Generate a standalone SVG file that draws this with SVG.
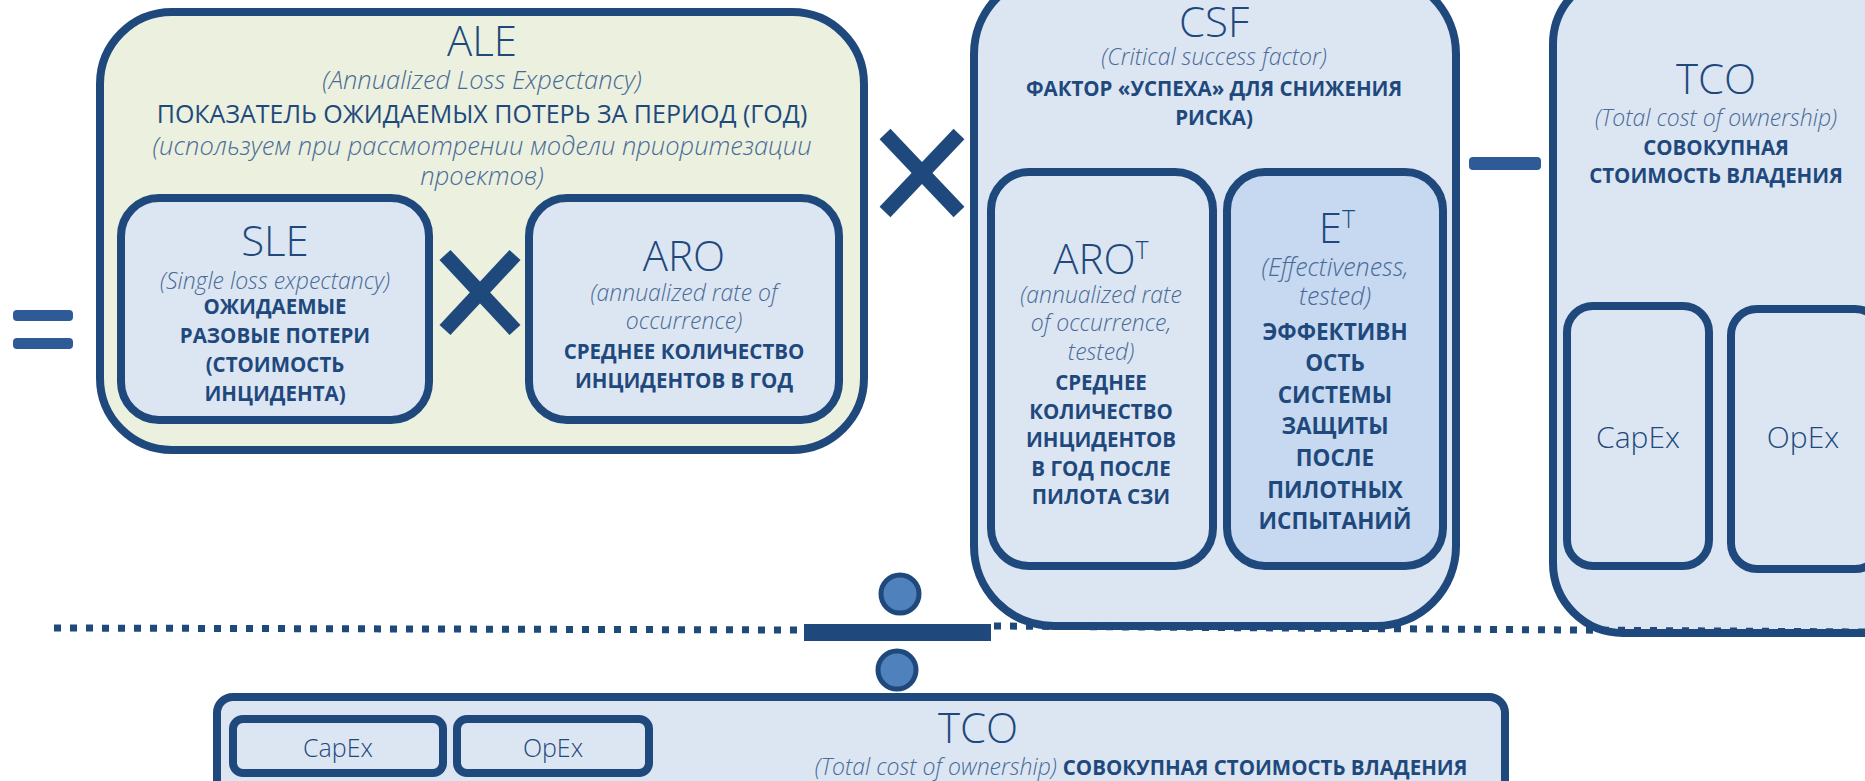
<svg xmlns="http://www.w3.org/2000/svg" width="1865" height="781" viewBox="0 0 1865 781">
<style>
.box{fill:#dce6f2;stroke:#1f497d;stroke-width:8}
.ale{fill:#ebf1de;stroke:#1f497d;stroke-width:8}
.et{fill:#c6d9f0;stroke:#1f497d;stroke-width:8}
.t{font-family:"Open Sans","Noto Sans",sans-serif;fill:#1f497d;text-anchor:middle}
.ttl{font-weight:300;font-size:42px}
.it{font-style:italic;font-weight:300;font-size:23px;fill:#4a6a98}
.ita{font-size:25.5px}
.ite{font-size:25px}
.b{font-weight:700;font-size:20.5px}
.be{font-size:22.5px}
.reg{font-weight:400;font-size:25px}
.lbl{font-weight:300;font-size:30px}
.op{fill:#2e5b98}
.x{stroke:#1f497d;stroke-width:15;stroke-linecap:butt}
.dot{fill:#4f81bd;stroke:#1f497d;stroke-width:5}
.dash{stroke:#1f497d;stroke-width:7;stroke-dasharray:7 9;fill:none}
</style>
<rect width="1865" height="781" fill="#ffffff"/>

<g id="equals">
<rect class="op" x="13" y="310" width="60" height="11" rx="4"/>
<rect class="op" x="13" y="338" width="60" height="11" rx="4"/>
</g>

<g id="ALE">
<rect class="ale" x="100" y="12" width="764" height="438" rx="72"/>
<text class="t ttl" x="482" y="56">ALE</text>
<text class="t it ita" x="482" y="89">(Annualized Loss Expectancy)</text>
<text class="t reg" x="482" y="123">ПОКАЗАТЕЛЬ ОЖИДАЕМЫХ ПОТЕРЬ ЗА ПЕРИОД (ГОД)</text>
<text class="t it ita" x="482" y="155">(используем при рассмотрении модели приоритезации</text>
<text class="t it ita" x="482" y="185">проектов)</text>
</g>

<g id="SLE">
<rect class="box" x="121" y="198" width="308" height="222" rx="38"/>
<text class="t ttl" x="275" y="256">SLE</text>
<text class="t it" x="275" y="289">(Single loss expectancy)</text>
<text class="t b" x="275" y="314">ОЖИДАЕМЫЕ</text>
<text class="t b" x="275" y="343">РАЗОВЫЕ ПОТЕРИ</text>
<text class="t b" x="275" y="372">(СТОИМОСТЬ</text>
<text class="t b" x="275" y="401">ИНЦИДЕНТА)</text>
</g>

<g id="ARO">
<rect class="box" x="529" y="198" width="310" height="222" rx="38"/>
<text class="t ttl" x="684" y="271">ARO</text>
<text class="t it" x="684" y="301">(annualized rate of</text>
<text class="t it" x="684" y="329">occurrence)</text>
<text class="t b" x="684" y="359">СРЕДНЕЕ КОЛИЧЕСТВО</text>
<text class="t b" x="684" y="388">ИНЦИДЕНТОВ В ГОД</text>
</g>

<g id="CSF">
<rect class="box" x="974" y="-26" width="482" height="652" rx="80"/>
<text class="t ttl" x="1214" y="37">CSF</text>
<text class="t it" x="1214" y="65">(Critical success factor)</text>
<text class="t b" x="1214" y="96">ФАКТОР «УСПЕХА» ДЛЯ СНИЖЕНИЯ</text>
<text class="t b" x="1214" y="125">РИСКА)</text>
</g>

<g id="AROT">
<rect class="box" x="991" y="172" width="222" height="394" rx="38"/>
<text class="t ttl" x="1101" y="274">ARO<tspan font-size="25" dy="-15">T</tspan></text>
<text class="t it" x="1101" y="303">(annualized rate</text>
<text class="t it" x="1101" y="331">of occurrence,</text>
<text class="t it" x="1101" y="360">tested)</text>
<text class="t b" x="1101" y="390">СРЕДНЕЕ</text>
<text class="t b" x="1101" y="419">КОЛИЧЕСТВО</text>
<text class="t b" x="1101" y="447">ИНЦИДЕНТОВ</text>
<text class="t b" x="1101" y="476">В ГОД ПОСЛЕ</text>
<text class="t b" x="1101" y="504">ПИЛОТА СЗИ</text>
</g>

<g id="ET">
<rect class="et" x="1227" y="172" width="216" height="394" rx="38"/>
<text class="t ttl" x="1337" y="243">E<tspan font-size="25" dy="-15">T</tspan></text>
<text class="t it ite" x="1335" y="276">(Effectiveness,</text>
<text class="t it ite" x="1335" y="305">tested)</text>
<text class="t b be" x="1335" y="340">ЭФФЕКТИВН</text>
<text class="t b be" x="1335" y="371">ОСТЬ</text>
<text class="t b be" x="1335" y="403">СИСТЕМЫ</text>
<text class="t b be" x="1335" y="434">ЗАЩИТЫ</text>
<text class="t b be" x="1335" y="466">ПОСЛЕ</text>
<text class="t b be" x="1335" y="498">ПИЛОТНЫХ</text>
<text class="t b be" x="1335" y="529">ИСПЫТАНИЙ</text>
</g>

<g id="TCO-right">
<rect class="box" x="1553" y="-26" width="400" height="659" rx="70"/>
<text class="t ttl" x="1716" y="94">TCO</text>
<text class="t it" x="1716" y="126">(Total cost of ownership)</text>
<text class="t b" x="1716" y="155">СОВОКУПНАЯ</text>
<text class="t b" x="1716" y="183">СТОИМОСТЬ ВЛАДЕНИЯ</text>
</g>
<g id="CapEx-right">
<rect class="box" x="1567" y="306" width="142" height="260" rx="26"/>
<text class="t lbl" x="1638" y="448">CapEx</text>
</g>
<g id="OpEx-right">
<rect class="box" x="1731" y="309" width="150" height="260" rx="26"/>
<text class="t lbl" x="1803" y="448">OpEx</text>
</g>

<g id="TCO-bottom">
<rect class="box" x="217" y="697" width="1288" height="120" rx="16"/>
<text class="t ttl" x="978" y="743">TCO</text>
<text class="t" x="1141" y="775" font-size="20.5"><tspan class="it">(Total cost of ownership) </tspan><tspan font-weight="700">СОВОКУПНАЯ СТОИМОСТЬ ВЛАДЕНИЯ</tspan></text>
</g>
<g id="CapEx-bottom">
<rect class="box" x="233" y="719" width="210" height="54" rx="10"/>
<text class="t" x="338" y="757" font-size="25" font-weight="300">CapEx</text>
</g>
<g id="OpEx-bottom">
<rect class="box" x="457" y="719" width="192" height="54" rx="10"/>
<text class="t" x="553" y="757" font-size="25" font-weight="300">OpEx</text>
</g>

<g id="connectors">
<line class="x" x1="445" y1="255" x2="515" y2="330"/>
<line class="x" x1="515" y1="255" x2="445" y2="330"/>
<line class="x" x1="885" y1="134" x2="959" y2="212"/>
<line class="x" x1="959" y1="134" x2="885" y2="212"/>
<rect class="op" x="1469" y="157" width="72" height="13" rx="4"/>
<line class="dash" x1="54" y1="628" x2="797" y2="630"/>
<line class="dash" x1="994" y1="626" x2="1865" y2="632"/>
<rect x="804" y="624" width="187" height="17" fill="#1f497d"/>
<circle class="dot" cx="900" cy="594" r="19"/>
<circle class="dot" cx="897" cy="670" r="19"/>
</g>
</svg>
